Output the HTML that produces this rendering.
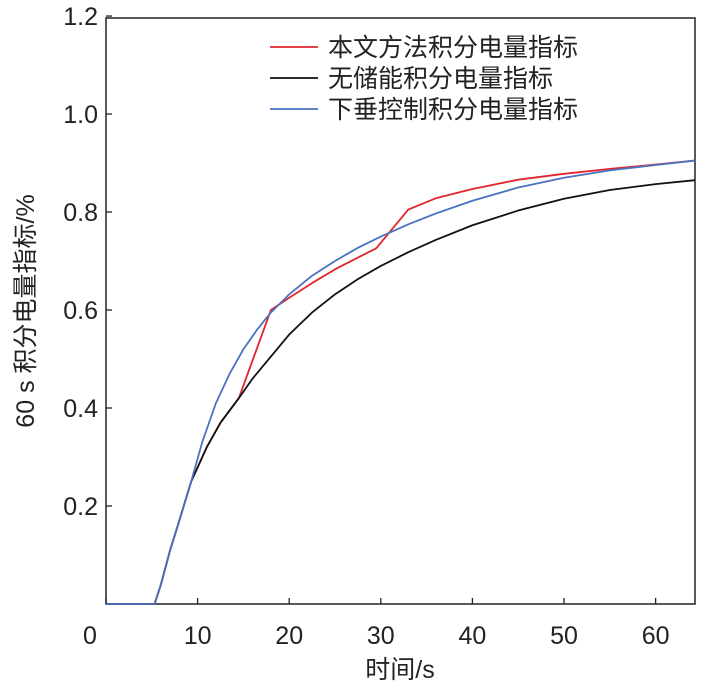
<!DOCTYPE html>
<html><head><meta charset="utf-8"><style>
body{margin:0;background:#fff}
svg text{font-family:"Liberation Sans","Noto Sans CJK SC",sans-serif;fill:#222}
</style></head><body>
<svg id="c" width="702" height="684"></svg>
<script>
const xTicks=[0,10,20,30,40,50,60];
const yTicks=[0.2,0.4,0.6,0.8,1.0,1.2];
const tBlack=[0,5.3,6,7,8,9.3,11,12.5,14.5,16,18,20,22.5,25,27.5,30,33,36,40,45,50,55,60,64.3];
const vBlack=[0,0,0.04,0.11,0.17,0.25,0.32,0.37,0.42,0.46,0.505,0.55,0.595,0.632,0.663,0.69,0.718,0.743,0.773,0.803,0.827,0.845,0.857,0.865];
const tBlue=[0,5.3,6,7,8,9.3,10.5,12,13.5,15,16.5,18,20,22.5,25,27.5,30,33,36,40,45,50,55,60,64.3];
const vBlue=[0,0,0.04,0.11,0.17,0.25,0.33,0.41,0.47,0.52,0.56,0.595,0.632,0.67,0.70,0.727,0.75,0.775,0.797,0.823,0.85,0.87,0.885,0.896,0.905];
const tRed=[0,5.3,6,7,8,9.3,11,12.5,14.5,18,20,22.5,25,27.5,29.5,33,36,40,45,50,55,60,64.3];
const vRed=[0,0,0.04,0.11,0.17,0.25,0.32,0.37,0.42,0.60,0.625,0.655,0.683,0.707,0.726,0.805,0.828,0.847,0.866,0.878,0.888,0.897,0.905];
const L=106,R=695,T=18,B=604;
const xs=t=>L+t*(R-L)/64.3, ys=v=>B-v*(B-T)/1.196;
const svg=document.getElementById('c'),NS='http://www.w3.org/2000/svg';
function mk(tag,a,txt){const e=document.createElementNS(NS,tag);for(const k in a)e.setAttribute(k,a[k]);if(txt!==undefined)e.textContent=txt;svg.appendChild(e);return e;}
let e=mk('rect',{x:L,y:T,width:R-L,height:B-T,fill:'none',stroke:'#222','stroke-width':1.5});


xTicks.forEach(t=>{
 let l=mk('line',{x1:xs(t),x2:xs(t),y1:B,y2:B-6,stroke:'#222','stroke-width':1.3});
 
 
 let s=mk('text',{x:t===0?90:xs(t),y:644,'font-size':25,'text-anchor':'middle'},String(t));
 
 
});
yTicks.forEach(v=>{
 let l=mk('line',{x1:L,x2:L+6,y1:ys(v),y2:ys(v),stroke:'#222','stroke-width':1.3});
 
 
 let s=mk('text',{x:98,y:ys(v)+9,'font-size':25,'text-anchor':'end'},v.toFixed(1));
 
 
});
function line(ts,vs,col,name){
 let p=mk('polyline',{points:ts.map((t,i)=>xs(t)+','+ys(vs[i])).join(' '),fill:'none',stroke:col,'stroke-width':1.8,'stroke-linejoin':'round'});
 
 
}
line(tRed,vRed,'#e0262b','series-proposed');
line(tBlack,vBlack,'#111','series-no-storage');
line(tBlue,vBlue,'#4a72c0','series-droop');
const leg=[['本文方法积分电量指标','#e0262b'],['无储能积分电量指标','#111'],['下垂控制积分电量指标','#4a72c0']];
leg.forEach((d,i)=>{
 const y=47+i*31;
 let l=mk('line',{x1:270,x2:318,y1:y,y2:y,stroke:d[1],'stroke-width':1.8});
 
 
 let s=mk('text',{x:328,y:y+9,'font-size':25},d[0]);
 
 
});
let xt=mk('text',{x:400,y:678,'font-size':25,'text-anchor':'middle'},'时间/s');


let yt=mk('text',{x:0,y:0,'font-size':25,'text-anchor':'middle',transform:'translate(34,311) rotate(-90)'},'60 s 积分电量指标/%');


</script>
</body></html>
